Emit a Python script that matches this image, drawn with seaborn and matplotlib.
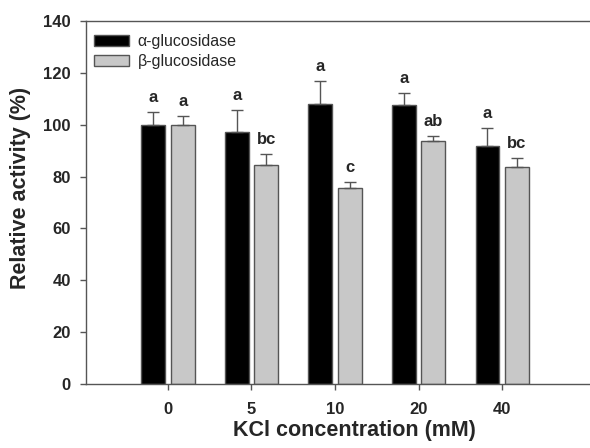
import matplotlib
matplotlib.use("Agg")
import matplotlib.pyplot as plt
from matplotlib.patches import Patch
import seaborn as sns
import pandas as pd
import numpy as np

# KCl concentrations (mM)
concentrations = ["0", "5", "10", "20", "40"]
# Mean relative activity (%) and upper SD
alpha_mean = [100.0, 97.3, 107.8, 107.6, 91.8]
alpha_sd = [5.0, 8.4, 9.2, 4.7, 6.8]
beta_mean = [100.0, 84.5, 75.7, 93.6, 83.7]
beta_sd = [3.5, 4.1, 2.3, 2.2, 3.5]
# Significance letters
alpha_letters = ["a", "a", "a", "a", "a"]
beta_letters = ["a", "bc", "c", "ab", "bc"]

series = ["α-glucosidase", "β-glucosidase"]

df = pd.DataFrame({
    "conc": concentrations * 2,
    "activity": alpha_mean + beta_mean,
    "enzyme": [series[0]] * 5 + [series[1]] * 5,
})

sns.set_style("ticks")
plt.rcParams["font.family"] = ["Liberation Sans", "DejaVu Sans"]

fig = plt.figure(figsize=(5.9, 4.48), dpi=100)
ax = fig.add_axes([86 / 590, 1 - 384 / 448, 1 - 86 / 590, (384 - 21) / 448])

edge = "#555555"
colors = {series[0]: "#000000", series[1]: "#c8c8c8"}

sns.barplot(data=df, x="conc", y="activity", hue="enzyme", order=concentrations,
            hue_order=series, palette=colors, width=0.706, gap=0.19,
            errorbar=None, edgecolor=edge, linewidth=1.0, legend=False, ax=ax)

for cont, means, sds, letters in zip(ax.containers,
                                     [alpha_mean, beta_mean],
                                     [alpha_sd, beta_sd],
                                     [alpha_letters, beta_letters]):
    xs = [b.get_x() + b.get_width() / 2 for b in cont]
    ax.errorbar(xs, means, yerr=[np.zeros(len(sds)), sds], fmt="none",
                ecolor=edge, elinewidth=1.0, capsize=4.5, capthick=1.0, zorder=3)
    for x, m, s, lab in zip(xs, means, sds, letters):
        ax.annotate(lab, (x, m + s), xytext=(0, 5), textcoords="offset points",
                    ha="center", va="bottom", fontsize=12, fontweight="bold")

ax.set_xlim(-0.98, 5.05)
ax.set_ylim(0, 140)
ax.set_yticks(range(0, 141, 20))

for side in ["left", "bottom", "top"]:
    ax.spines[side].set_color(edge)
    ax.spines[side].set_linewidth(1.0)
ax.spines["right"].set_visible(False)

ax.tick_params(axis="both", direction="out", length=4, width=1.0, color=edge,
               labelsize=12)
for lab in ax.get_xticklabels() + ax.get_yticklabels():
    lab.set_fontweight("bold")
ax.tick_params(axis="x", pad=9)
ax.tick_params(axis="y", pad=7)

ax.set_xlabel("KCl concentration (mM)", fontsize=15.5, fontweight="bold")
ax.set_ylabel("Relative activity (%)", fontsize=15.5, fontweight="bold")
ax.xaxis.set_label_coords((354 - 86) / (590 - 86), -0.1)
ax.yaxis.set_label_coords((31 - 86) / (590 - 86), 0.54)

handles = [Patch(facecolor=colors[s], edgecolor=edge, linewidth=1.0, label=s) for s in series]
ax.legend(handles=handles, loc="upper left", bbox_to_anchor=(-0.004, 0.99), frameon=False,
          fontsize=11.5, handlelength=2.2, handleheight=0.63, handletextpad=0.55,
          labelspacing=0.32, borderaxespad=0.3, borderpad=0.3)

fig.savefig("out.png", dpi=100)
